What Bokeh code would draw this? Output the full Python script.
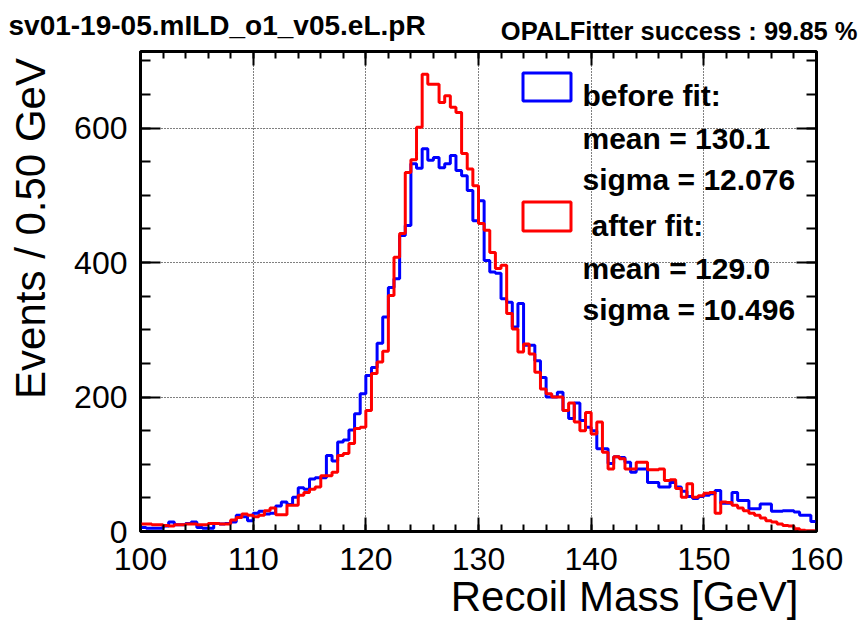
import numpy as np
from bokeh.plotting import figure
from bokeh.layouts import column, row
from bokeh.models import (Range1d, LinearAxis, SingleIntervalTicker, FixedTicker, Label,
                          BoxAnnotation, Title)
from bokeh.embed import file_html
from bokeh.resources import INLINE

# ---- data: 120 bins of 0.5 GeV from 100 to 160 GeV ----
bin_low = 100.0
bin_width = 0.5
n_bins = 120

before_fit = [
    6, 5, 5, 5, 8, 14, 10, 10, 12, 14, 6, 5, 5, 12, 11, 12, 14, 24, 22, 16,
    27, 30, 26, 27, 38, 44, 40, 51, 65, 63, 78, 80, 80, 113, 105, 133, 136, 151, 175, 205,
    232, 244, 280, 319, 363, 376, 440, 455, 547, 540, 569, 552, 556, 541, 547, 559, 537, 529, 507, 462,
    492, 403, 386, 384, 346, 341, 304, 339, 277, 277, 254, 229, 200, 200, 207, 180, 168, 191, 165, 155,
    150, 123, 123, 101, 111, 110, 103, 88, 93, 93, 73, 73, 66, 66, 73, 66, 60, 52, 49, 52,
    54, 56, 61, 42, 42, 58, 46, 46, 34, 34, 41, 41, 30, 30, 31, 31, 29, 24, 24, 15,
]
after_fit = [
    11, 11, 10, 10, 9, 8, 10, 10, 11, 11, 10, 10, 12, 12, 11, 11, 17, 21, 26, 24,
    22, 24, 31, 35, 25, 25, 39, 39, 54, 58, 63, 66, 83, 83, 88, 113, 116, 131, 153, 155,
    180, 235, 252, 268, 351, 408, 443, 534, 553, 601, 680, 665, 665, 638, 648, 631, 623, 562, 539, 514,
    458, 448, 415, 391, 396, 324, 301, 267, 279, 264, 237, 212, 205, 200, 200, 180, 191, 163, 150, 177,
    145, 163, 118, 93, 111, 108, 93, 93, 103, 103, 92, 92, 93, 76, 77, 64, 51, 71, 51, 53,
    57, 58, 27, 44, 43, 39, 35, 31, 27, 24, 20, 16, 14, 11, 9, 8, 4, 2, 1, 1,
]

title_text = "sv01-19-05.mILD_o1_v05.eL.pR"
status_text = "OPALFitter success : 99.85 %"
x_title = "Recoil Mass [GeV]"
y_title = "Events / 0.50 GeV"
legend_before = ["before fit:", "mean  = 130.1", "sigma = 12.076"]
legend_after = ["after fit:", "mean  = 129.0", "sigma = 10.496"]

# ---- geometry (pixels of the 862x621 page) ----
W, H = 862, 621
HEAD_H, LEFT_W = 45, 60
XMIN, XMAX = 100.0, 160.0
YMIN, YMAX = 0.0, 713.8
FL, FT, FW, FH = 140, 51, 676, 480   # frame left/top/width/height on the page

FONT = "Liberation Sans"


def dx(px):
    return XMIN + (px - FL) / FW * (XMAX - XMIN)


def dy(py):
    return YMIN + (FT + FH - py) / FH * (YMAX - YMIN)


def add_label(fig, text, x, y, size, bold=False, align="left", angle=0.0):
    fig.add_layout(Label(x=x, y=y, text=text, text_font=FONT, text_font_size=size,
                         text_font_style="bold" if bold else "normal",
                         text_align=align, text_baseline="alphabetic", angle=angle,
                         text_color="black"))


# ---- main plot ----
mid_h = H - HEAD_H
p = figure(frame_width=FW, frame_height=FH,
           x_range=Range1d(XMIN, XMAX), y_range=Range1d(YMIN, YMAX),
           output_backend="svg", toolbar_location=None,
           min_border_left=FL - LEFT_W, min_border_right=W - FL - FW,
           min_border_top=FT - HEAD_H, min_border_bottom=mid_h - (FT - HEAD_H) - FH)
p.background_fill_color = "white"
p.border_fill_color = "white"
p.outline_line_color = "black"
p.outline_line_width = 3

xt = SingleIntervalTicker(interval=10, num_minor_ticks=5)
yt = SingleIntervalTicker(interval=200, num_minor_ticks=4)


def style_axis(ax, ticker, major_len, minor_len, labels):
    ax.ticker = ticker
    ax.axis_line_color = None
    ax.major_tick_in = major_len
    ax.major_tick_out = 0
    ax.minor_tick_in = minor_len
    ax.minor_tick_out = 0
    ax.major_tick_line_width = 2
    ax.minor_tick_line_width = 2
    ax.major_tick_line_color = "black"
    ax.minor_tick_line_color = "black"
    if labels:
        ax.major_label_text_font = FONT
        ax.major_label_text_font_size = "32px"
        ax.major_label_text_color = "black"
    else:
        ax.major_label_text_font_size = "1px"
        ax.major_label_text_color = None
        ax.major_label_standoff = 0


style_axis(p.xaxis[0], xt, 14, 7, True)
p.xaxis[0].major_label_standoff = 16
style_axis(p.yaxis[0], yt, 20, 10, True)
p.yaxis[0].major_label_standoff = 13

top_ax = LinearAxis()
style_axis(top_ax, xt, 14, 7, False)
p.add_layout(top_ax, "above")
right_ax = LinearAxis()
style_axis(right_ax, yt, 20, 10, False)
p.add_layout(right_ax, "right")

for g in (p.xgrid[0], p.ygrid[0]):
    g.grid_line_color = "black"
    g.grid_line_width = 1
    g.grid_line_dash = "1 2"
p.xgrid[0].ticker = xt
p.ygrid[0].ticker = yt

edges = bin_low + bin_width * np.arange(n_bins + 1)
p.step(edges, list(before_fit) + [before_fit[-1]], mode="after",
       line_color="#0000ff", line_width=3)
p.step(edges, list(after_fit) + [after_fit[-1]], mode="after",
       line_color="#ff0000", line_width=3)

# legend boxes (annotation, not data)
p.add_layout(BoxAnnotation(left=dx(522.5), right=dx(570.5), top=dy(72.5), bottom=dy(100.5),
                           fill_color=None, fill_alpha=0, line_color="#0000ff",
                           line_alpha=1.0, line_width=3))
p.add_layout(BoxAnnotation(left=dx(522.5), right=dx(570.5), top=dy(201.5), bottom=dy(230.5),
                           fill_color=None, fill_alpha=0, line_color="#ff0000",
                           line_alpha=1.0, line_width=3))

for t, py in zip(legend_before, [95, 138, 179]):
    add_label(p, t, dx(582), dy(py), "30px", bold=True)
for t, px, py in zip(legend_after, [591, 582, 582], [225, 268, 309]):
    add_label(p, t, dx(px), dy(py), "30px", bold=True)

# x-axis title: right-aligned title in the lower panel
p.add_layout(Title(text=x_title, align="right", vertical_align="bottom", offset=18, standoff=-4,
                   text_font=FONT, text_font_size="42px", text_font_style="normal",
                   text_color="black"), "below")

# ---- header with the two top texts ----
header = figure(width=W, height=HEAD_H, x_range=Range1d(0, W), y_range=Range1d(HEAD_H, 0),
                x_axis_type=None, y_axis_type=None, toolbar_location=None,
                output_backend="svg", min_border=0)
header.outline_line_color = None
header.border_fill_color = "white"
add_label(header, title_text, 8, 25, "28px", bold=True)
add_label(header, status_text, 857, 30, "25.5px", bold=True, align="right")

# ---- left strip carrying the y-axis title (axis label of an empty axis) ----
Y_TXT_TOP, Y_TXT_BOT = 55, 395          # page rows spanned by the y title
lp_bottom = int(round(mid_h - 2 * ((Y_TXT_TOP + Y_TXT_BOT) / 2 - HEAD_H)))
lp = figure(width=LEFT_W, height=mid_h, x_range=Range1d(0, 1), y_range=Range1d(0, 1),
            x_axis_type=None, toolbar_location=None, output_backend="svg",
            min_border_left=53, min_border_right=0, min_border_top=0,
            min_border_bottom=lp_bottom)
lp.outline_line_color = None
lp.border_fill_color = "white"
lp.ygrid.visible = False
ya = lp.yaxis[0]
ya.ticker = FixedTicker(ticks=[])
ya.axis_line_color = None
ya.major_tick_line_color = None
ya.minor_tick_line_color = None
ya.major_label_text_font_size = "1px"
ya.major_label_text_color = None
ya.major_label_standoff = 0
ya.axis_label = y_title
ya.axis_label_standoff = 0
ya.axis_label_text_font = FONT
ya.axis_label_text_font_size = "42px"
ya.axis_label_text_font_style = "normal"
ya.axis_label_text_color = "black"

layout = column(header, row(lp, p, spacing=0), spacing=0)

open("out.html", "w").write(file_html(layout, INLINE))
